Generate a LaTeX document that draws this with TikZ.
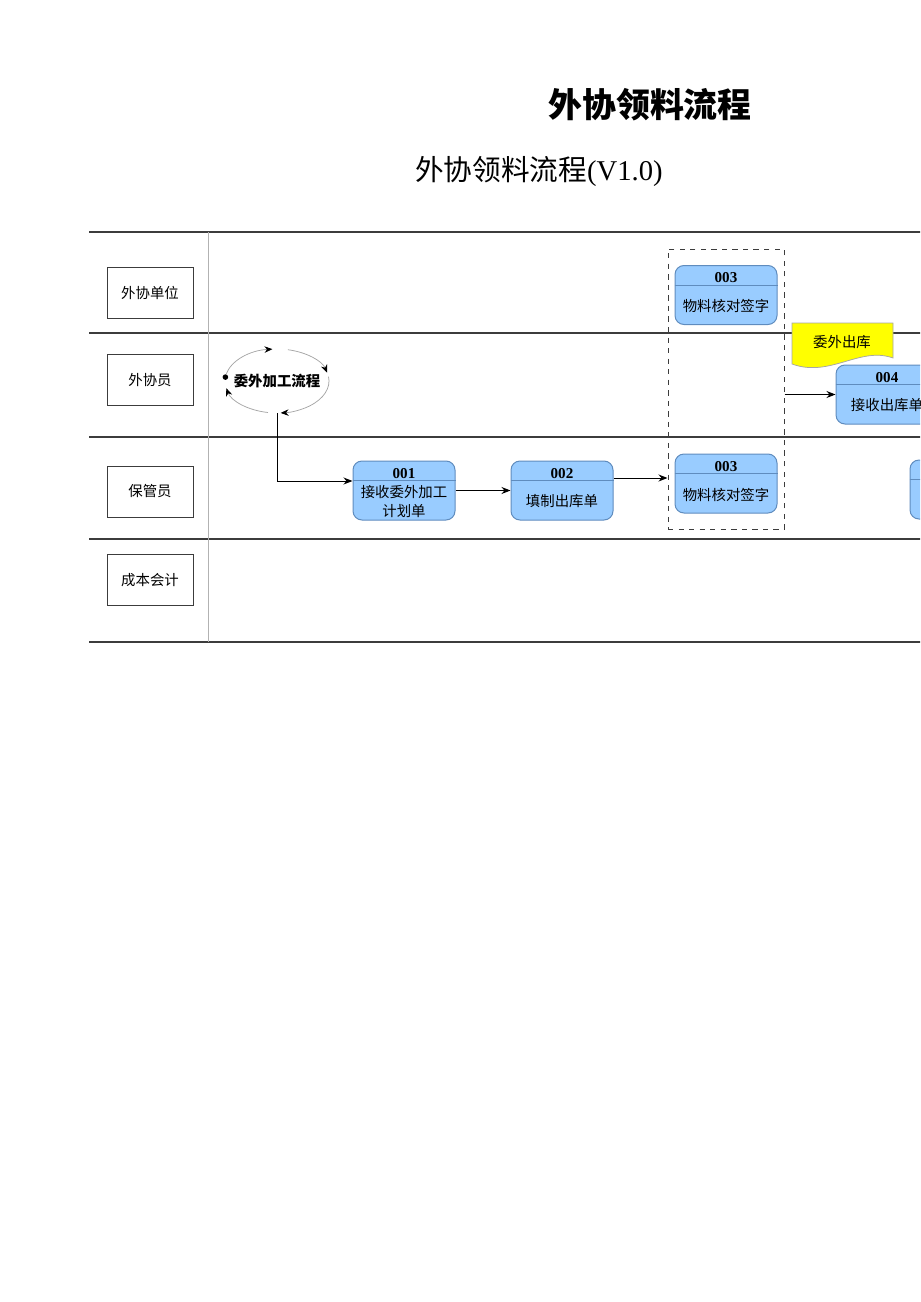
\documentclass[tikz,border=0pt]{standalone}
\usepackage{fontspec}
\setmainfont{Liberation Serif}
\newfontfamily\cjk{Noto Sans CJK SC}
\usepackage{tikz}
\usetikzlibrary{shapes.geometric,fit,calc,arrows.meta}
\definecolor{celeste}{RGB}{153,204,255}
\definecolor{azulborde}{RGB}{95,140,190}
\definecolor{amarillo}{RGB}{255,255,0}
\definecolor{grisoscuro}{RGB}{60,60,60}
\tikzset{>={Stealth[length=1.8mm,width=1.4mm]}}
\tikzset{
  laneline/.style={grisoscuro, line width=0.25mm},
  lanelabel/.style={draw=grisoscuro, line width=0.2mm, minimum width=86*0.2mm, minimum height=51*0.2mm, font=\cjk\fontsize{8.2}{10}\selectfont},
  procbox/.style={draw=azulborde, fill=celeste, rounded corners=1.8mm, minimum width=102*0.2mm, minimum height=59*0.2mm, line width=0.2mm},
  numtext/.style={font=\bfseries\fontsize{8.6}{10}\selectfont, inner sep=0pt},
  boxtext/.style={font=\cjk\fontsize{8.2}{10.8}\selectfont, align=center, inner sep=0pt},
  flow/.style={->, line width=0.2mm},
  cycarc/.style={-{Stealth[length=1.6mm,width=1.3mm,black]}, gray!70, line width=0.15mm},
  dashbox/.style={draw=grisoscuro, dashed, line width=0.2mm},
  docshape/.style={fill=amarillo, draw=gray!70, line width=0.15mm}
}
% process box: name, centre, number, text
\newcommand{\procstep}[4]{%
  \node[procbox] (#1) at (#2) {};
  \draw[azulborde, line width=0.15mm] ($(#1.north west)+(0,20)$) -- ($(#1.north east)+(0,20)$);
  \node[numtext] (#1-num) at ($(#1.north)+(0,13)$) {#3};
  \node[boxtext] (#1-txt) at ($(#1.north)+(0,41)$) {#4};
}
\begin{document}
\begin{tikzpicture}[x=0.2mm, y=-0.2mm]
  \useasboundingbox (0,0) rectangle (920,1302);
  \clip (0,0) rectangle (920,1302);

  \node[font=\cjk\bfseries\fontsize{19.3}{22}\selectfont] (title) at (650,105) {外协领料流程};
  \node[font=\fontsize{16.3}{19}\selectfont] (subtitle) at (539,172) {{\cjk 外协领料流程}(V1.0)};

  % lanes
  \foreach \y in {232,333,437,539,642}
    \draw[laneline] (89,\y) -- (930,\y);
  \draw[gray!60, line width=0.15mm] (208,232) -- (208,642);

  \node[lanelabel] (lane1) at (150,293) {外协单位};
  \node[lanelabel] (lane2) at (150,380) {外协员};
  \node[lanelabel] (lane3) at (150,491.5) {保管员};
  \node[lanelabel] (lane4) at (150,580) {成本会计};

  % cycle
  \node[ellipse, minimum width=104*0.2mm, minimum height=64*0.2mm, inner sep=0pt, font=\cjk\bfseries\fontsize{8.2}{10}\selectfont] (cycle) at (277,381) {委外加工流程};
  \draw[cycarc] (cycle.center) ++(192:52 and 32) arc[start angle=192, end angle=265, x radius=52, y radius=32];
  \draw[cycarc] (cycle.center) ++(282:52 and 32) arc[start angle=282, end angle=345, x radius=52, y radius=32];
  \draw[cycarc] (cycle.center) ++(352:52 and 32) arc[start angle=352, end angle=446, x radius=52, y radius=32];
  \draw[cycarc] (cycle.center) ++(100:52 and 32) arc[start angle=100, end angle=167, x radius=52, y radius=32];
  \fill (cycle.center) ++(187:52 and 32) circle[radius=2.8];

  \procstep{p001}{404,490.5}{001}{接收委外加工\\计划单}
  \procstep{p002}{562,490.5}{002}{填制出库单}
  \procstep{chk1}{726,295}{003}{物料核对签字}
  \procstep{chk2}{726,483.5}{003}{物料核对签字}
  \procstep{p004}{887,394.5}{004}{接收出库单}
  \node[procbox] (p005) at (961,489.5) {};
  \draw[azulborde, line width=0.15mm] ($(p005.north west)+(0,20)$) -- ($(p005.north east)+(0,20)$);

  \node[dashbox, fit=(chk1)(chk2), inner xsep=1.3mm, inner ysep=3.2mm] (dash) {};

  % document
  \draw[docshape] (792,323) -- (893,323) -- (893,358) .. controls (860,346) and (830,378) .. (792,364) -- cycle;
  \node[font=\cjk\fontsize{8.2}{10}\selectfont] (doc) at (842,342) {委外出库};

  \draw[flow] (cycle.south) |- ([yshift=1.9mm]p001.west);
  \draw[flow] (p001.east) -- (p002.west);
  \coordinate (out2) at ([yshift=2.5mm]p002.east);
  \draw[flow] (out2) -- (out2 -| dash.west);
  \draw[flow] (dash.east |- p004.west) -- (p004.west);
\end{tikzpicture}
\end{document}
